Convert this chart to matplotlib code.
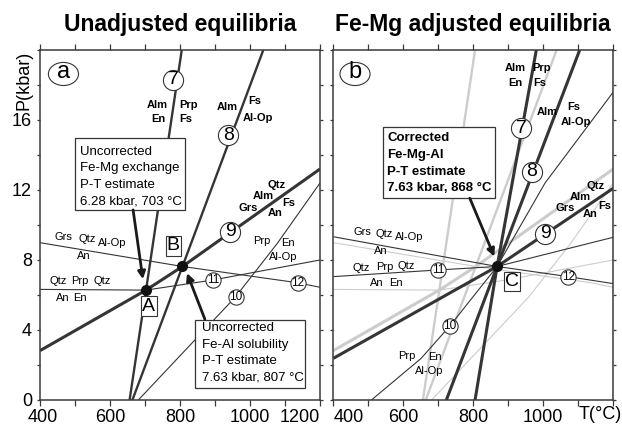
import numpy as np
import matplotlib
matplotlib.use("Agg")
import matplotlib.pyplot as plt
from matplotlib.patches import Ellipse, Rectangle
from matplotlib.transforms import ScaledTranslation

plt.rcParams['font.family'] = ['Liberation Sans', 'DejaVu Sans']

# Schnittpunkte (T in °C, P in kbar)
T_A, P_A = 703, 6.28
T_B, P_B = 807, 7.63
T_C, P_C = 868, 7.63

# Unkorrigierte Gleichgewichte (Panel a, grau in Panel b)
r7_T,  r7_P  = [656, 703, 805],        [0, 6.28, 20]
r8_T,  r8_P  = [664, 807, 1038],       [0, 7.63, 20]
r9_T,  r9_P  = [400, 703, 807, 1200],  [2.82, 6.28, 7.63, 13.2]
r10_T, r10_P = [681, 959, 1078, 1200], [0, 5.9, 8.95, 12.4]
r11_T, r11_P = [400, 703, 895, 1200],  [6.32, 6.28, 6.86, 8.0]
r12_T, r12_P = [400, 807, 1136, 1200], [8.99, 7.63, 6.70, 6.44]

# Fe-Mg korrigierte Gleichgewichte (Panel b)
c7_T,  c7_P  = [805, 868, 980],                 [0, 7.63, 20]
c8_T,  c8_P  = [723, 868, 1104],                [0, 7.63, 20]
c9_T,  c9_P  = [400, 868, 1200],                [2.38, 7.63, 12.1]
c10_T, c10_P = [509, 651, 733, 868, 1005, 1200], [0, 2.38, 4.23, 7.63, 12.4, 17.6]
c11_T, c11_P = [400, 699, 868, 1200],           [7.05, 7.43, 7.63, 9.3]
c12_T, c12_P = [400, 868, 1071, 1200],          [9.33, 7.63, 7.05, 6.65]

x_ticks = [400, 500, 600, 700, 800, 900, 1000, 1100, 1200]
x_labels_a = ['400', '', '600', '', '800', '', '1000', '', '1200']
x_labels_b = ['400', '', '600', '', '800', '', '1000', '', '']
y_ticks = [0, 2, 4, 6, 8, 10, 12, 14, 16, 18, 20]
y_labels = ['0', '', '4', '', '8', '', '12', '', '16', '', '']

DARK = '#353535'
GREY = '#cccccc'

fig = plt.figure(figsize=(6.22, 4.25), dpi=100)
W, H = 622, 425
ax_a = fig.add_axes([40 / W, 1 - 400 / H, 280 / W, 350 / H])
ax_b = fig.add_axes([333.3 / W, 1 - 400 / H, 280 / W, 350 / H])


def style_axes(ax, xlabels, ylabels):
    ax.set_xlim(400, 1200)
    ax.set_ylim(0, 20)
    for s in ax.spines.values():
        s.set_color('#3a3a3a')
        s.set_linewidth(1.1)
    ax.set_xticks(x_ticks)
    ax.set_xticklabels(xlabels, fontsize=13)
    ax.set_yticks(y_ticks)
    ax.set_yticklabels(ylabels, fontsize=13)
    ax.tick_params(axis='x', direction='out', length=4.5, width=0.9, color='#3a3a3a',
                   top=True, pad=2)
    ax.tick_params(axis='y', direction='out', length=2.5, width=0.9, color='#3a3a3a',
                   right=True, pad=3.3)


def draw_lines(ax, sets, color):
    for T, P, lw in sets:
        ax.plot(T, P, color=color, lw=lw, solid_capstyle='butt', zorder=2)


def circle_label(ax, txt, T, P, big):
    ms = 14.5 if big else 11
    fs = 14 if big else 8.5
    ax.plot([T], [P], 'o', ms=ms, mfc='white', mec=DARK, mew=0.8, zorder=5)
    ax.text(T, P, txt, ha='center', va='center', fontsize=fs, zorder=6)


def letter_ellipse(ax, txt, T, P):
    ax.add_patch(Ellipse((T, P), 86, 1.32, fc='white', ec=DARK, lw=0.8, zorder=5))
    ax.text(T, P + 0.1, txt, ha='center', va='center', fontsize=17, zorder=6)


def point_box(ax, txt, T, P):
    ax.text(T, P, txt, ha='center', va='center', fontsize=14, zorder=6,
            bbox=dict(boxstyle='square,pad=0.06', fc='white', ec=DARK, lw=0.8))


def text_box(ax, lines, T0, T1, P0, P1, tx, ty, bold):
    ax.add_patch(Rectangle((T0, P0), T1 - T0, P1 - P0, fc='white', ec=DARK,
                           lw=0.9, zorder=7))
    for line, p in zip(lines, ty):
        ax.text(tx, p, line, ha='left', va='center', fontsize=9.5,
                fontweight='bold' if bold else 'normal', zorder=8)


def arrow(ax, start, tip):
    ax.annotate('', xy=tip, xytext=start, zorder=9,
                arrowprops=dict(arrowstyle='-|>', lw=2.0, color='#1a1a1a',
                                mutation_scale=11, shrinkA=0, shrinkB=0))


def labels(ax, items, bold):
    for txt, T, P in items:
        ax.text(T, P, txt, ha='center', va='center', fontsize=8,
                fontweight='bold' if bold else 'normal', zorder=4)


unadj = [(r7_T, r7_P, 1.7), (r8_T, r8_P, 1.7), (r9_T, r9_P, 2.2),
         (r10_T, r10_P, 0.8), (r11_T, r11_P, 0.8), (r12_T, r12_P, 0.8)]
adj = [(c7_T, c7_P, 2.2), (c8_T, c8_P, 2.2), (c9_T, c9_P, 2.2),
       (c10_T, c10_P, 0.8), (c11_T, c11_P, 0.8), (c12_T, c12_P, 0.8)]

# ---- Panel a ----
ax = ax_a
style_axes(ax, x_labels_a, y_labels)
ax.get_xticklabels()[-1].set_ha('right')
first = ax.get_xticklabels()[0]
first.set_transform(first.get_transform() + ScaledTranslation(3 / 100, 0, fig.dpi_scale_trans))
draw_lines(ax, unadj, DARK)
for txt, T, P, big in [('7', 781, 18.29, True), ('8', 938, 15.14, True),
                       ('9', 943, 9.62, True), ('10', 959, 5.9, False),
                       ('11', 895, 6.86, False), ('12', 1136, 6.70, False)]:
    circle_label(ax, txt, T, P, big)
letter_ellipse(ax, 'a', 467, 18.63)
labels(ax, [('Alm', 734, 16.86), ('Prp', 823, 16.86), ('En', 737, 16.06), ('Fs', 817, 16.06),
            ('Alm', 934, 16.74), ('Fs', 1014, 17.09), ('Al-Op', 1023, 16.11),
            ('Qtz', 1077, 12.3), ('Alm', 1037, 11.66), ('Grs', 994, 10.97),
            ('Fs', 1111, 11.26), ('An', 1071, 10.69)], True)
labels(ax, [('Grs', 466, 9.33), ('Qtz', 535, 9.2), ('Al-Op', 605, 8.99), ('An', 524, 8.23),
            ('Qtz', 452, 6.8), ('Prp', 514, 6.8), ('Qtz', 579, 6.8),
            ('An', 465, 5.85), ('En', 514, 5.85),
            ('Prp', 1033, 9.1), ('En', 1107, 8.99), ('Al-Op', 1095, 8.15)], False)
ax.plot([T_A, T_B], [P_A, P_B], 'o', ms=7, color='#111111', zorder=6, ls='none')
point_box(ax, 'A', 711, 5.37)
point_box(ax, 'B', 781, 8.8)
text_box(ax, ['Uncorrected', 'Fe-Mg exchange', 'P-T estimate', '6.28 kbar, 703 °C'],
         500, 814, 10.86, 15.0, 514, [14.17, 13.24, 12.29, 11.37], False)
text_box(ax, ['Uncorrected', 'Fe-Al solubility', 'P-T estimate', '7.63 kbar, 807 °C'],
         843, 1157, 0.69, 4.57, 862, [4.1, 3.17, 2.22, 1.3], False)
arrow(ax, (666, 10.86), (694, 6.9))
arrow(ax, (871, 4.62), (820, 7.25))

# ---- Panel b ----
ax = ax_b
style_axes(ax, x_labels_b, [''] * len(y_ticks))
ax.get_xticklabels()[0].set_ha('left')
draw_lines(ax, unadj, GREY)
draw_lines(ax, adj, DARK)
for txt, T, P, big in [('7', 937, 15.52, True), ('8', 967, 13.05, True),
                       ('9', 1005, 9.49, True), ('10', 733, 4.23, False),
                       ('11', 699, 7.43, False), ('12', 1071, 7.05, False)]:
    circle_label(ax, txt, T, P, big)
letter_ellipse(ax, 'b', 462, 18.63)
labels(ax, [('Alm', 919, 18.95), ('Prp', 995, 18.95), ('En', 919, 18.1), ('Fs', 989, 18.1),
            ('Alm', 1010, 16.47), ('Fs', 1086, 16.72), ('Al-Op', 1093, 15.9),
            ('Qtz', 1148, 12.23), ('Alm', 1105, 11.62), ('Grs', 1062, 10.95),
            ('Fs', 1176, 11.09), ('An', 1133, 10.63)], True)
labels(ax, [('Grs', 483, 9.62), ('Qtz', 544, 9.47), ('Al-Op', 618, 9.3), ('An', 537, 8.53),
            ('Qtz', 480, 7.56), ('Prp', 547, 7.62), ('Qtz', 607, 7.66),
            ('An', 523, 6.67), ('En', 578, 6.7),
            ('Prp', 611, 2.51), ('En', 690, 2.44), ('Al-Op', 673, 1.66)], False)
ax.plot([T_C], [P_C], 'o', ms=7, color='#111111', zorder=6)
point_box(ax, 'C', 910, 6.76)
text_box(ax, ['Corrected', 'Fe-Mg-Al', 'P-T estimate', '7.63 kbar, 868 °C'],
         541, 862, 11.53, 15.62, 554, [14.95, 14.0, 13.05, 12.1], True)
arrow(ax, (790, 11.53), (860, 8.2))
ax.text(1.032, -0.042, 'T(°C)', transform=ax.transAxes, ha='right', va='center',
        fontsize=13)

fig.text(180 / W, 1 - 24 / H, 'Unadjusted equilibria', ha='center', va='center',
         fontsize=16.5, fontweight='bold')
fig.text(473 / W, 1 - 24 / H, 'Fe-Mg adjusted equilibria', ha='center', va='center',
         fontsize=16.5, fontweight='bold')
fig.text(24 / W, 1 - 80 / H, 'P(kbar)', rotation=90, ha='center', va='center',
         fontsize=13)

fig.savefig('out.png', dpi=100)
